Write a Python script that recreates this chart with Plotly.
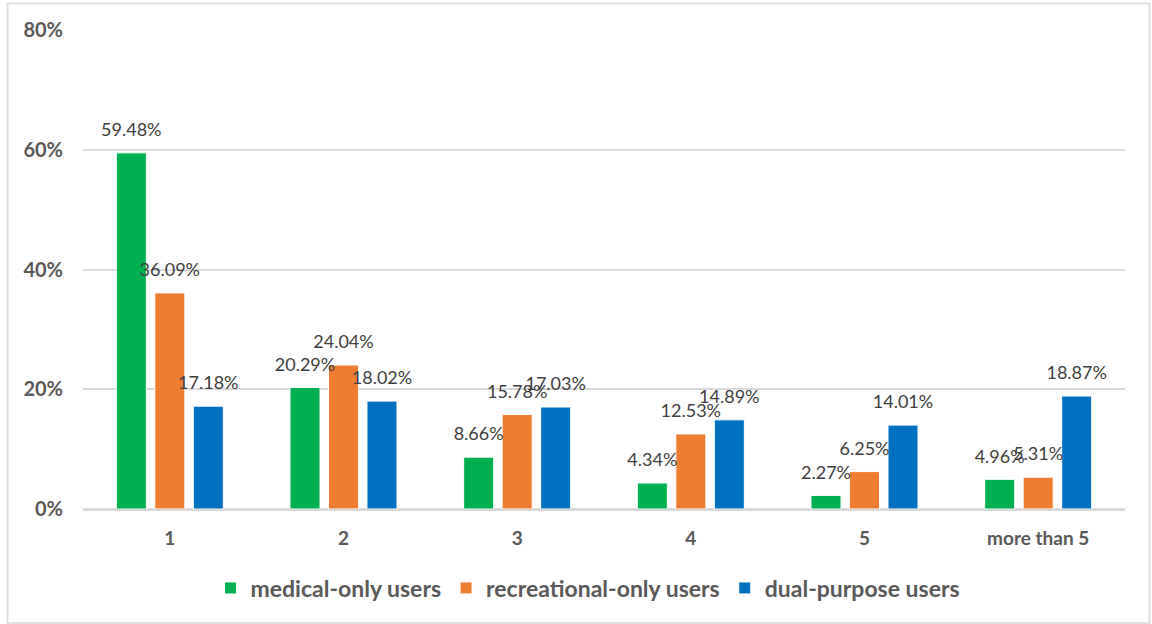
import plotly.graph_objects as go

categories = ["1", "2", "3", "4", "5", "more than 5"]
medical_only = [59.48, 20.29, 8.66, 4.34, 2.27, 4.96]
recreational_only = [36.09, 24.04, 15.78, 12.53, 6.25, 5.31]
dual_purpose = [17.18, 18.02, 17.03, 14.89, 14.01, 18.87]
series_names = ["medical-only users", "recreational-only users", "dual-purpose users"]
colors = ["#00B050", "#ED7D31", "#0070C0"]
y_ticks = [0, 20, 40, 60, 80]
y_tick_labels = ["0%", "20%", "40%", "60%", "80%"]

W, H = 1152, 624
ml, mr, mt, mb = 83, 27, 30, 115
pw, ph = W - ml - mr, H - mt - mb
BARGAP = 0.335

fig = go.Figure()
all_series = [medical_only, recreational_only, dual_purpose]
for i, (name, vals, col) in enumerate(zip(series_names, all_series, colors)):
    fig.add_trace(go.Bar(
        x=categories, y=vals, name=name,
        marker=dict(color=col, line=dict(color="white", width=1)),
        offsetgroup=str(i), hoverinfo="skip",
    ))
for i, vals in enumerate(all_series):
    fig.add_trace(go.Scatter(
        x=categories, y=vals, mode="markers+text",
        text=[f"{v:.2f}%" for v in vals], textposition="top center",
        textfont=dict(family="Lato", size=18, color="#404040"),
        marker=dict(size=18, opacity=0),
        orientation="v", offsetgroup=str(i), alignmentgroup="a",
        showlegend=False, hoverinfo="skip", cliponaxis=False,
    ))

def px_x(p):
    return (p - ml) / pw

def px_y(p):
    return (H - mb - p) / ph

fig.update_layout(
    width=W, height=H,
    margin=dict(l=ml, r=mr, t=mt, b=mb),
    paper_bgcolor="white", plot_bgcolor="white",
    barmode="group", bargap=BARGAP, bargroupgap=0.22,
    scattermode="group", scattergap=BARGAP,
    font=dict(family="Lato", color="#595959"),
    xaxis=dict(
        showgrid=False, showline=True, linecolor="#D9D9D9", linewidth=1.5,
        tickfont=dict(family="Lato", size=19, color="#595959", weight="bold"),
        ticks="", ticklabelstandoff=11,
    ),
    yaxis=dict(
        range=[0, 80], tickvals=y_ticks, ticktext=y_tick_labels,
        showgrid=True, gridcolor="#D9D9D9", gridwidth=1.5,
        zeroline=True, zerolinecolor="#D9D9D9", zerolinewidth=1.5,
        tickfont=dict(family="Lato", size=20, color="#595959", weight="bold"),
        ticks="", ticklabelstandoff=19,
    ),
    legend=dict(
        orientation="h", x=px_x(588), xanchor="center", y=px_y(588), yanchor="middle",
        font=dict(family="Lato", size=23, color="#595959", weight="bold"),
        itemclick=False, itemdoubleclick=False,
        tracegroupgap=0,
    ),
    shapes=[dict(
        type="rect", xref="paper", yref="paper",
        x0=px_x(7.5), x1=px_x(1149.5), y0=px_y(623), y1=px_y(3.5),
        line=dict(color="#E0E0E0", width=2), layer="below",
    )],
    showlegend=True,
)

fig.write_html("out.html")
